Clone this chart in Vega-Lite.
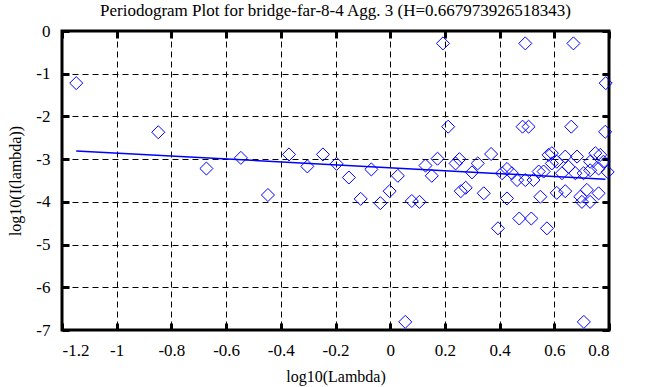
{
  "$schema": "https://vega.github.io/schema/vega-lite/v6.json",
  "width": 547,
  "height": 299,
  "autosize": {"type": "none"},
  "padding": {"left": 62, "top": 31, "right": 54, "bottom": 57},
  "background": "white",
  "title": {"text": "Periodogram Plot for bridge-far-8-4 Agg. 3 (H=0.667973926518343)", "font": "Liberation Serif", "fontSize": 17, "fontWeight": "normal", "color": "black", "anchor": "middle", "offset": 2},
  "config": {
    "font": "Liberation Serif",
    "view": {"stroke": "black", "strokeWidth": 3},
    "axis": {"labelFont": "Liberation Serif", "titleFont": "Liberation Serif", "labelFontSize": 17, "titleFontSize": 16, "titleFontWeight": "normal", "labelColor": "black", "titleColor": "black", "domain": false, "tickColor": "black", "tickWidth": 3, "tickSize": -7, "gridColor": "black", "gridDash": [6, 4], "gridWidth": 1, "gridOpacity": 1, "labelExpr": "replace(format(datum.value, '~g'), '−', '-')"}
  },
  "datasets": {
    "pts": [
      {"x": -1.148, "y": -1.22}, {"x": -0.848, "y": -2.37}, {"x": -0.672, "y": -3.22}, {"x": -0.546, "y": -2.97},
      {"x": -0.447, "y": -3.84}, {"x": -0.370, "y": -2.89}, {"x": -0.303, "y": -3.17}, {"x": -0.246, "y": -2.89},
      {"x": -0.196, "y": -3.11}, {"x": -0.151, "y": -3.43}, {"x": -0.108, "y": -3.93}, {"x": -0.069, "y": -3.24},
      {"x": -0.036, "y": -4.03}, {"x": -0.002, "y": -3.75}, {"x": 0.028, "y": -3.39}, {"x": 0.055, "y": -6.81},
      {"x": 0.079, "y": -3.98}, {"x": 0.107, "y": -4.00}, {"x": 0.129, "y": -3.15}, {"x": 0.152, "y": -3.39},
      {"x": 0.173, "y": -2.99}, {"x": 0.193, "y": -0.29}, {"x": 0.212, "y": -2.24}, {"x": 0.239, "y": -3.10},
      {"x": 0.253, "y": -3.00}, {"x": 0.258, "y": -3.75}, {"x": 0.276, "y": -3.67}, {"x": 0.299, "y": -3.31},
      {"x": 0.320, "y": -3.10}, {"x": 0.342, "y": -3.80}, {"x": 0.369, "y": -2.88}, {"x": 0.394, "y": -4.62},
      {"x": 0.409, "y": -3.33}, {"x": 0.427, "y": -3.23}, {"x": 0.427, "y": -3.92}, {"x": 0.445, "y": -3.33},
      {"x": 0.464, "y": -3.49}, {"x": 0.472, "y": -4.39}, {"x": 0.484, "y": -2.24}, {"x": 0.516, "y": -4.39},
      {"x": 0.494, "y": -0.29}, {"x": 0.494, "y": -3.49}, {"x": 0.506, "y": -2.24}, {"x": 0.524, "y": -3.49},
      {"x": 0.543, "y": -3.29}, {"x": 0.549, "y": -3.88}, {"x": 0.561, "y": -3.29}, {"x": 0.573, "y": -4.62},
      {"x": 0.579, "y": -2.90}, {"x": 0.591, "y": -3.10}, {"x": 0.591, "y": -2.86}, {"x": 0.609, "y": -3.06},
      {"x": 0.609, "y": -3.79}, {"x": 0.640, "y": -3.75}, {"x": 0.628, "y": -3.33}, {"x": 0.640, "y": -2.94},
      {"x": 0.652, "y": -3.18}, {"x": 0.662, "y": -2.24}, {"x": 0.670, "y": -0.29}, {"x": 0.677, "y": -3.33},
      {"x": 0.683, "y": -2.94}, {"x": 0.695, "y": -3.88}, {"x": 0.701, "y": -4.00}, {"x": 0.707, "y": -3.33},
      {"x": 0.708, "y": -6.81}, {"x": 0.719, "y": -3.72}, {"x": 0.731, "y": -3.26}, {"x": 0.731, "y": -3.06},
      {"x": 0.731, "y": -4.00}, {"x": 0.750, "y": -2.86}, {"x": 0.762, "y": -3.22}, {"x": 0.762, "y": -3.80},
      {"x": 0.768, "y": -2.90}, {"x": 0.780, "y": -3.06}, {"x": 0.786, "y": -2.36}, {"x": 0.788, "y": -1.22},
      {"x": 0.795, "y": -3.30}
    ],
    "fit": [
      {"x": -1.148, "y": -2.81}, {"x": 0.787, "y": -3.47}
    ]
  },
  "layer": [
    {
      "data": {"name": "pts"},
      "mark": {"type": "point", "shape": "diamond", "size": 170, "filled": false, "color": "#0000ff", "strokeWidth": 1, "opacity": 1},
      "encoding": {
        "x": {"field": "x", "type": "quantitative", "scale": {"domain": [-1.2, 0.8], "nice": false, "zero": false}, "axis": {"title": "log10(Lambda)", "labelFont": "Liberation Serif", "titleFont": "Liberation Serif", "values": [-1.2, -1, -0.8, -0.6, -0.4, -0.2, 0, 0.2, 0.4, 0.6, 0.8], "grid": true, "labelPadding": 19, "titlePadding": 10}},
        "y": {"field": "y", "type": "quantitative", "scale": {"domain": [-7, 0], "nice": false, "zero": false}, "axis": {"title": "log10(I(lambda))", "labelFont": "Liberation Serif", "titleFont": "Liberation Serif", "values": [0, -1, -2, -3, -4, -5, -6, -7], "grid": true, "labelPadding": 19, "titlePadding": 12}}
      }
    },
    {
      "data": {"name": "fit"},
      "mark": {"type": "line", "color": "#0000ff", "strokeWidth": 1.5},
      "encoding": {
        "x": {"field": "x", "type": "quantitative", "axis": {"orient": "top", "title": null, "labels": false, "grid": false, "values": [-1.2, -1, -0.8, -0.6, -0.4, -0.2, 0, 0.2, 0.4, 0.6, 0.8]}},
        "y": {"field": "y", "type": "quantitative", "axis": {"orient": "right", "title": null, "labels": false, "grid": false, "values": [0, -1, -2, -3, -4, -5, -6, -7]}}
      }
    }
  ],
  "resolve": {"axis": {"x": "independent", "y": "independent"}}
}
